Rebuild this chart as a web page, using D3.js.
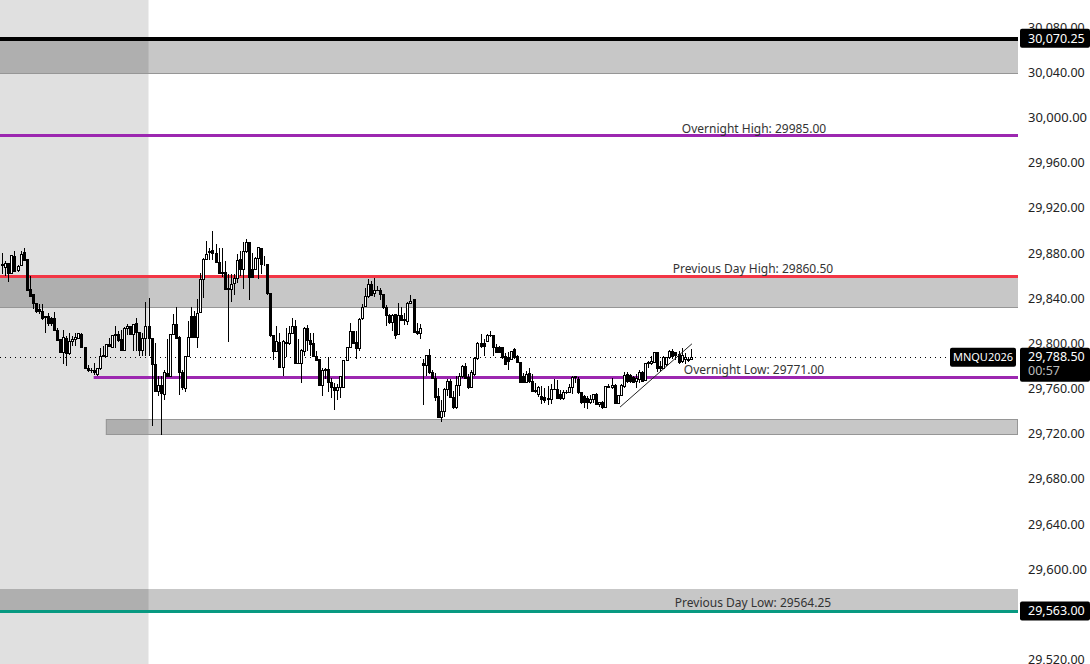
<!DOCTYPE html>
<html>
<head>
<meta charset="utf-8">
<script src="https://cdnjs.cloudflare.com/ajax/libs/d3/7.8.5/d3.min.js"></script>
<style>
    body { margin: 0; background: #fff; overflow: hidden; }
    text { font-family: "Noto Sans", sans-serif; }
    .axis path, .axis line { display: none; }
</style>
</head>
<body>
<svg id="chart" width="1090" height="664"></svg>
<script>
// candles: open, high, low, close
const opens = [29870,29868,29871,29862,29877.5,29865,29869.5,29880.5,29874.5,29848.5,29843.5,29836,29830.5,29829,29823,29824,29822,29822,29812,29804,29792,29805,29791,29802.5,29804,29805,29808,29797,29778.5,29776.5,29776,29773,29778,29789,29789,29799,29797,29808,29808,29804,29794,29814,29815.5,29808,29818,29810,29794.5,29805,29815,29804.5,29782,29758,29763.5,29755,29773.5,29771.5,29808,29817,29806,29775,29760.5,29788.5,29824,29824,29806,29827.5,29857,29874.5,29880.5,29883,29880,29872,29862,29863,29849,29848.5,29853,29857.5,29874.5,29866,29882,29889.5,29866,29866,29876,29884.5,29870,29870,29845,29807.5,29793.5,29801.5,29779,29801.5,29800,29809.5,29815,29783,29782.5,29793.5,29813.5,29803,29800,29789,29786,29763.5,29776.5,29777.5,29765.5,29761.5,29759,29761,29761,29785,29796.5,29810.5,29801,29795.5,29822,29833.5,29841.5,29852.5,29844.5,29847,29847,29843.5,29832.5,29825.5,29818.5,29826,29808,29825.5,29820.5,29820,29836,29839,29811,29809,29783,29781,29789.5,29774.5,29769,29753,29734.5,29740.5,29760,29766.5,29752.5,29744,29763,29771.5,29780,29770,29761,29773,29787,29800,29800,29802.5,29807,29807,29796.5,29796.5,29796.5,29788.5,29787.5,29786,29795,29788.5,29783.5,29771.5,29765.5,29773.5,29767,29759,29755,29753.5,29752.5,29752,29750.5,29759.5,29759.5,29755,29752,29757,29757,29761,29770,29768.5,29756.5,29753,29752,29748,29750.5,29755,29746.5,29748,29744,29762.5,29761,29763,29747.5,29754,29762.5,29773,29772,29770,29766.5,29768.5,29775,29767.5,29782.5,29783,29783.5,29792,29780,29778.5,29781.5,29787.5,29793.5,29792,29790.5,29784.5,29786.5,29786.5,29786];
const highs = [29880.5,29873,29871.5,29879,29882,29870,29882.5,29884.5,29874.5,29860.5,29843.5,29836,29835,29835,29824.5,29827.5,29824,29828,29814,29804.5,29812,29807,29809.5,29807,29810,29810,29809.5,29797,29781.5,29778.5,29783,29778.5,29796.5,29798,29799.5,29805.5,29807,29815.5,29811,29812,29815,29818,29816,29818,29823,29810,29809.5,29837,29840.5,29804.5,29801,29771.5,29771.5,29777,29804,29808,29826,29832.5,29807,29777,29789,29820,29832.5,29829,29840,29863,29876,29891.5,29885,29900,29888,29885,29885,29873,29861.5,29861.5,29861.5,29879.5,29882,29890,29893,29889.5,29880.5,29877,29886,29885,29878,29870,29845,29808,29815.5,29809.5,29803,29814,29815.5,29823,29821.5,29804,29795,29815,29817,29809.5,29809.5,29793.5,29786,29778.5,29778.5,29788,29770,29765.5,29764,29771.5,29786,29796.5,29818.5,29811,29811,29822.5,29835.5,29849.5,29857,29855.5,29858.5,29851,29849.5,29843.5,29834,29826,29826,29826.5,29836,29832.5,29827.5,29837,29843.5,29840,29818.5,29818,29786.5,29790.5,29795.5,29777,29774.5,29761,29750.5,29761,29768.5,29768.5,29758,29771.5,29774.5,29781,29783,29773,29777,29788.5,29801.5,29809,29804,29809,29811,29807,29800,29798,29797,29792,29792.5,29793.5,29796.5,29790.5,29783.5,29774.5,29776,29778.5,29773,29765.5,29762.5,29762.5,29761,29762.5,29764,29768.5,29768,29759.5,29759.5,29759.5,29764,29771.5,29771.5,29771,29757,29755,29754,29755,29756,29756.5,29748.5,29749,29763,29764,29770,29764,29755,29764,29775,29775,29773,29771.5,29773,29776.5,29775.5,29783,29784.5,29789,29792.5,29792.5,29784.5,29789,29788.5,29794.5,29795,29792.5,29793.5,29796.5,29792,29788.5,29795.5];
const lows = [29861.5,29860,29854.5,29861.5,29863.5,29864,29868.5,29873,29847.5,29841.5,29830.5,29827.5,29826,29821.5,29810,29816,29816,29811,29802.5,29792,29782.5,29780,29790.5,29798,29798.5,29804,29796.5,29778,29775,29774.5,29772,29771.5,29777,29788.5,29788.5,29797,29796.5,29796.5,29801.5,29793.5,29793.5,29808,29807.5,29793.5,29793.5,29789,29789,29789.5,29789,29727,29757.5,29753.5,29719,29750,29771,29771,29807.5,29804.5,29754.5,29759.5,29757.5,29788,29805.5,29805.5,29796.5,29827,29840.5,29874,29874,29874.5,29871.5,29861.5,29859,29847.5,29801.5,29837,29843.5,29854,29860.5,29848.5,29880.5,29838.5,29858.5,29865,29857.5,29861.5,29868.5,29843,29806,29786,29792.5,29778.5,29771.5,29788.5,29799,29809,29782.5,29782.5,29765.5,29789,29793.5,29789,29788.5,29784.5,29763,29753.5,29768.5,29757,29752,29741,29750.5,29752,29760.5,29784.5,29796,29800,29786.5,29793.5,29821.5,29832.5,29841,29842,29841.5,29846.5,29839,29831,29815.5,29818,29811,29804,29807.5,29820,29817,29816.5,29835.5,29809.5,29808,29804.5,29745.5,29771.5,29773.5,29768.5,29749,29734,29730.5,29735,29753.5,29752,29742.5,29742.5,29753.5,29770,29768.5,29760,29760.5,29771.5,29786,29796.5,29789,29801.5,29806,29789,29791.5,29791.5,29787,29781.5,29777,29785.5,29786.5,29783,29765,29765,29765,29765.5,29757,29756.5,29753,29746.5,29748,29745.5,29746.5,29759,29751.5,29750.5,29750.5,29756,29756.5,29756,29765.5,29756,29746.5,29743.5,29742.5,29746.5,29748,29745.5,29744,29742.5,29743.5,29760.5,29760,29747,29747,29753.5,29761,29765.5,29765.5,29765,29761,29765.5,29766.5,29767,29778.5,29781.5,29783,29775,29776,29778,29780,29786.5,29786.5,29786,29782.5,29783,29782,29784,29785.5];
const closes = [29869.5,29871,29862,29878,29864,29868.5,29879.5,29874,29847.5,29842,29835.5,29829,29829,29822,29824,29818,29818,29812,29803,29792.5,29806,29791.5,29802.5,29803.5,29805.5,29809,29797,29778.5,29776,29776,29775,29778,29788.5,29789.5,29799,29797.5,29807,29807,29803,29794,29814,29815,29808,29817,29810,29794.5,29805,29815,29804.5,29782,29757.5,29763.5,29756,29774.5,29771.5,29808,29817.5,29805,29775,29761,29788.5,29806,29806,29806,29827,29857,29874.5,29879.5,29882,29880,29872,29862,29863,29848,29848,29852.5,29857.5,29873.5,29866,29882,29889.5,29859,29859,29876,29885,29870,29870,29845,29807,29793.5,29802,29779,29802.5,29800,29809.5,29815,29783,29782.5,29794,29814,29803,29799,29789,29785,29763.5,29776.5,29777.5,29765.5,29761,29759,29761,29771,29785,29796.5,29810.5,29800.5,29795.5,29821.5,29832.5,29841.5,29852.5,29842.5,29847,29847.5,29843.5,29832,29825.5,29818.5,29825.5,29807.5,29825.5,29820.5,29821.5,29836,29837.5,29810,29809,29814,29781,29789.5,29774.5,29769,29752.5,29734.5,29740.5,29760,29767,29752.5,29744,29763,29771.5,29780,29769,29761,29774.5,29787,29800,29797.5,29797.5,29807,29807.5,29796.5,29792,29792,29787.5,29782,29784.5,29793.5,29787.5,29783.5,29765.5,29765.5,29773,29767,29758,29758,29761,29750.5,29750,29750.5,29759.5,29760,29752,29751.5,29757,29756.5,29761,29770,29771,29756.5,29748,29748,29748,29750.5,29755,29746.5,29748,29744,29762.5,29761,29763,29747.5,29754,29763,29772,29767,29767,29765.5,29769,29775,29767,29782.5,29783.5,29784.5,29792,29778.5,29778,29787.5,29787.5,29793,29788.5,29789.5,29783.5,29789.5,29787.5,29785.5,29788];

const tickPrices = [30080,30040,30000,29960,29920,29880,29840,29800,29760,29720,29680,29640,29600,29520];
const majorTicks = [30000, 29600];

const levelPrices = [29985, 29860.5, 29771, 29564.25, 30070.25];
const levelColors = ['#9c27b0', '#f23645', '#9c27b0', '#089981', '#000000'];
const levelWidths = [3, 3, 3, 3, 4];
const levelStart = [null, null, 30, null, null];

const levelLabels = ['Overnight High: 29985.00', 'Previous Day High: 29860.50', 'Overnight Low: 29771.00', 'Previous Day Low: 29564.25'];
const labelPrices = [29985, 29860.5, 29771, 29564.25];
const labelX = [754, 753, 754, 753];
const labelShift = [-2, -3, -3, -3];

const zoneTop = [30070.25, 29860.5, 29733.5, 29583];
const zoneBottom = [30040, 29832.5, 29720, 29564.25];
const zoneStart = [null, null, 34, null];

const sessionEnd = 48;
const lastPrice = 29788.5;
const trendIdx = [202.8, 226.4];
const trendPrice = [29744, 29800];

const plotRight = 1018;

let svg = d3.select('#chart');

let y = d3.scaleLinear().domain([30000, 29520]).range([118, 660]);
let x = d3.scaleLinear().domain([0, 226]).range([2.3, 690.7]);

// session shading
svg.append('rect')
    .attr('x', 0).attr('y', 0)
    .attr('width', x(sessionEnd)).attr('height', 664)
    .attr('fill', '#e0e0e0');

// dotted last price line
svg.append('line')
    .attr('x1', 0).attr('x2', 950)
    .attr('y1', Math.round(y(lastPrice)) + 0.5).attr('y2', Math.round(y(lastPrice)) + 0.5)
    .attr('stroke', '#000')
    .attr('stroke-dasharray', '1,4');

// zones
zoneTop.forEach(function(top, i){
    let left = zoneStart[i] === null ? 0 : x(zoneStart[i]);
    svg.append('rect')
        .attr('x', left).attr('y', Math.round(y(top)))
        .attr('width', plotRight - left)
        .attr('height', Math.round(y(zoneBottom[i])) - Math.round(y(top)))
        .attr('fill', 'rgba(0,0,0,0.22)');
    svg.append('line')
        .attr('x1', left).attr('x2', plotRight)
        .attr('y1', Math.round(y(zoneBottom[i])) + 0.5).attr('y2', Math.round(y(zoneBottom[i])) + 0.5)
        .attr('stroke', '#969696')
        .attr('stroke-width', 1);
});
// the small zone has a border on all sides
svg.append('rect')
    .attr('x', x(zoneStart[2]) + 0.5).attr('y', Math.round(y(zoneTop[2])) + 0.5)
    .attr('width', plotRight - x(zoneStart[2]) - 1)
    .attr('height', Math.round(y(zoneBottom[2])) - Math.round(y(zoneTop[2])))
    .attr('fill', 'none')
    .attr('stroke', '#969696');

// levels
levelPrices.forEach(function(p, i){
    let left = levelStart[i] === null ? 0 : x(levelStart[i]);
    let lineY = Math.ceil(y(p)) + (levelWidths[i] % 2 ? 0.5 : 0);
    svg.append('line')
        .attr('x1', left).attr('x2', plotRight)
        .attr('y1', lineY).attr('y2', lineY)
        .attr('stroke', levelColors[i])
        .attr('stroke-width', levelWidths[i]);
});

// candles
let candles = svg.append('g').attr('shape-rendering', 'crispEdges')
    .selectAll('g')
    .data(d3.range(opens.length))
    .enter()
    .append('g');

candles.append('line')
    .attr('x1', function(d){ return Math.round(x(d)) + 0.5; })
    .attr('x2', function(d){ return Math.round(x(d)) + 0.5; })
    .attr('y1', function(d){ return y(highs[d]); })
    .attr('y2', function(d){ return y(lows[d]); })
    .attr('stroke', '#000');

candles.append('rect')
    .attr('x', function(d){ return Math.round(x(d)) - 0.5; })
    .attr('width', 2)
    .attr('y', function(d){ return y(Math.max(opens[d], closes[d])); })
    .attr('height', function(d){ return Math.abs(y(opens[d]) - y(closes[d])); })
    .attr('fill', function(d){ return closes[d] >= opens[d] ? '#fff' : '#000'; })
    .attr('stroke', '#000');

// trend line
svg.append('line')
    .attr('x1', x(trendIdx[0])).attr('y1', y(trendPrice[0]))
    .attr('x2', x(trendIdx[1])).attr('y2', y(trendPrice[1]))
    .attr('stroke', '#222')
    .attr('stroke-width', 1);

// level labels
svg.selectAll('.level-label')
    .data(levelLabels)
    .enter()
    .append('text')
    .attr('class', 'level-label')
    .attr('x', function(d, i){ return labelX[i]; })
    .attr('y', function(d, i){ return y(labelPrices[i]) + labelShift[i]; })
    .attr('text-anchor', 'middle')
    .attr('font-size', 12)
    .attr('fill', '#333')
    .text(function(d){ return d; });

// price axis
let axis = d3.axisRight(y)
    .tickValues(tickPrices)
    .tickSize(0)
    .tickPadding(0)
    .tickFormat(d3.format(',.2f'));

let axisG = svg.append('g')
    .attr('class', 'axis')
    .attr('transform', 'translate(1028,-0.5)')
    .call(axis);

axisG.selectAll('text')
    .attr('font-size', function(d){ return majorTicks.indexOf(d) >= 0 ? 13 : 12.5; })
    .attr('fill', '#222')
    .style('font-family', '"Noto Sans", sans-serif');

// price tags on the axis
[30070.25, 29563].forEach(function(p){
    svg.append('rect')
        .attr('x', 1020).attr('y', y(p) - 10)
        .attr('width', 70).attr('height', 19)
        .attr('rx', 2)
        .attr('fill', '#000');
    svg.append('text')
        .attr('x', 1028).attr('y', y(p) + 4)
        .attr('font-size', 12.5)
        .attr('fill', '#fff')
        .text(d3.format(',.2f')(p));
});

svg.append('rect')
    .attr('x', 950).attr('y', y(lastPrice) - 9)
    .attr('width', 66).attr('height', 19)
    .attr('rx', 2)
    .attr('fill', '#000');
svg.append('text')
    .attr('x', 983).attr('y', y(lastPrice) + 4)
    .attr('text-anchor', 'middle')
    .attr('font-size', 11)
    .attr('fill', '#fff')
    .text('MNQU2026');

svg.append('rect')
    .attr('x', 1020).attr('y', y(lastPrice) - 9)
    .attr('width', 70).attr('height', 34)
    .attr('rx', 2)
    .attr('fill', '#000');
svg.append('text')
    .attr('x', 1028).attr('y', y(lastPrice) + 4)
    .attr('font-size', 12.5)
    .attr('fill', '#fff')
    .text(d3.format(',.2f')(lastPrice));
svg.append('text')
    .attr('x', 1028).attr('y', y(lastPrice) + 18)
    .attr('font-size', 12.5)
    .attr('fill', '#bbb')
    .text('00:57');
</script>
</body>
</html>
